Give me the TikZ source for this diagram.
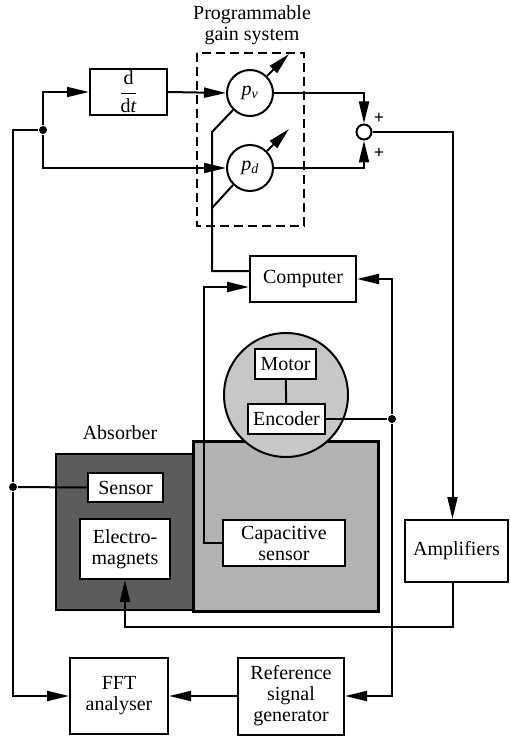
\documentclass[tikz,border=0pt]{standalone}
\usepackage{fontspec}
\setmainfont{Liberation Serif}
\usepackage{tikz}
\usetikzlibrary{arrows.meta, calc}

\begin{document}
\begin{tikzpicture}[
    x=1pt, y=-1pt,
    font=\fontsize{20}{21}\selectfont,
    >={Triangle[length=22pt, width=10pt]},
    line width=2pt,
    block/.style={draw, fill=white, inner sep=0pt, align=center},
    gain/.style={circle, draw, fill=white, minimum size=46pt, inner sep=0pt},
    junction/.style={circle, fill, inner sep=0pt, minimum size=8pt},
]
\useasboundingbox (0,0) rectangle (510,738);

%------------------------------------------------------------
% Absorber (shaded bodies first, blocks on top)
%------------------------------------------------------------
\node[draw, fill=black!64, minimum width=138pt, minimum height=156pt] (core) at (125,532) {};
\node[draw, line width=3pt, fill=black!30, minimum width=185pt, minimum height=170pt] (plate) at (285.5,526) {};
\node[circle, draw, fill=black!22, minimum size=124pt] (disc) at (286,395) {};
\node at (120,433) {Absorber};

\node[block, minimum width=75pt, minimum height=29pt] (sensor) at (125.5,487.5) {Sensor};
\node[block, minimum width=90pt, minimum height=60pt] (elec) at (125,549) {Electro-\\magnets};
\node[block, minimum width=122pt, minimum height=46pt] (cap) at (284,543) {Capacitive\\sensor};
\node[block, minimum width=61pt, minimum height=30pt] (motor) at (285.5,364) {Motor};
\node[block, minimum width=77pt, minimum height=30pt] (enc) at (286.5,419) {Encoder};
\draw (motor) -- (enc);

%------------------------------------------------------------
% Programmable gain system
%------------------------------------------------------------
\node[align=center] at (252,25) {Programmable\\gain system};
\draw[dash pattern=on 9pt off 5pt] (197,53) rectangle (304,226);

\node[block, minimum width=77pt, minimum height=46pt] (ddt) at (128.5,92)
    {$\displaystyle\frac{\mbox{d}}{\mbox{d\itshape t}}$};
\node[gain] (pv) at (250,93) {\itshape p\textsubscript{v}};
\node[gain] (pd) at (250,168) {\itshape p\textsubscript{d}};
\node[circle, draw, fill=white, minimum size=15pt, inner sep=0pt] (sum) at (364,132) {};
\node[font=\fontsize{18}{18}\selectfont\bfseries] at (379,118) {+};
\node[font=\fontsize{18}{18}\selectfont\bfseries] at (379,153) {+};

% gain adjust arrows
\draw[->] (pv.45) -- ++(22,-22);
\draw[->] (pd.45) -- ++(22,-22);

%------------------------------------------------------------
% Other blocks
%------------------------------------------------------------
\node[block, minimum width=106pt, minimum height=46pt] (comp) at (303,279) {Computer};
\node[block, minimum width=103pt, minimum height=62pt] (amp) at (456.5,551) {Amplifiers};
\node[block, minimum width=98pt, minimum height=76pt] (fft) at (119,696) {FFT\\analyser};
\node[block, minimum width=106pt, minimum height=77pt] (ref) at (291,696) {Reference\\signal\\generator};

%------------------------------------------------------------
% Junctions and corners
%------------------------------------------------------------
\node[junction] (jS) at (13,487) {};
\node[junction] (j1) at (43,130) {};
\node[junction] (jE) at (392,419) {};
\coordinate (gv) at (212,132);
\coordinate (gd) at (212,208);
\coordinate (cL) at (204,287);
\coordinate (ampLow) at (452,627);

%------------------------------------------------------------
% Connectors
%------------------------------------------------------------
\draw (sensor.west) -- (jS);
\draw (jS) |- (j1);
\draw[->] (jS) |- (fft.west);
\draw[->] (j1) |- (ddt.west);
\draw[->] (j1) |- (pd.west);
\draw[->] (ddt.east) -- (pv.west);
\draw[->] (pv.east) -| (sum.north);
\draw[->] (pd.east) -| (sum.south);
\draw[->] (sum.east) -| ([xshift=-4pt]amp.north);
\draw[->] ([xshift=-4pt]amp.south) |- (ampLow) -| (elec.south);

% computer to gains
\draw ([yshift=8pt]comp.west) -| (gv) -- (pv.225);
\draw (gd) -- (pd.225);

% sensors to computer
\draw[->] (cap.west) -| (cL) -- ([yshift=-8pt]comp.west);
\draw (enc.east) -- (jE);
\draw[->] (jE) |- (comp.east);
\draw[->] (jE) |- (ref.east);
\draw[->] (ref.west) -- (fft.east);

\end{tikzpicture}
\end{document}
